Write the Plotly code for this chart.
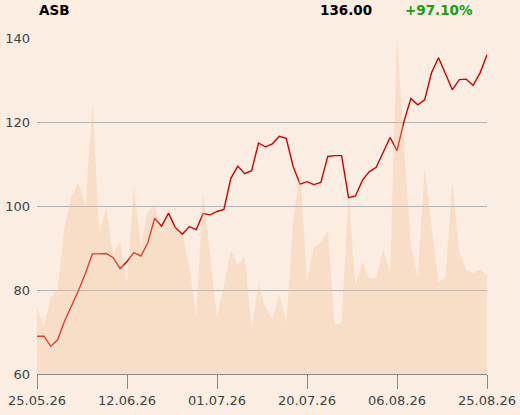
import pandas as pd
import plotly.graph_objects as go

# ---- data ----
symbol = "ASB"
last_price_text = "136.00"
change_text = "+97.10%"

# trading days (business days, 04.06.26 holiday)
dates = [d for d in pd.bdate_range("2026-05-25", "2026-08-25") if d != pd.Timestamp("2026-06-04")]
categories = [d.strftime("%d.%m.%y") for d in dates]

price = [69.0, 69.0, 66.6, 68.2, 72.7, 76.1, 79.9, 84.0, 88.6, 88.6,
         88.7, 87.7, 85.1, 86.8, 88.9, 88.1, 91.2, 97.1, 95.2, 98.3,
         94.8, 93.3, 95.1, 94.4, 98.2, 97.9, 98.7, 99.2, 106.6, 109.5,
         107.7, 108.4, 115.0, 114.1, 114.8, 116.6, 116.1, 109.4, 105.2, 105.8,
         105.1, 105.6, 111.8, 112.0, 112.0, 102.0, 102.4, 106.1, 108.2, 109.2,
         112.9, 116.3, 113.2, 120.1, 125.6, 124.1, 125.3, 131.8, 135.3, 131.4,
         127.7, 130.1, 130.2, 128.7, 131.7, 136.0]

volume = [156, 113, 183, 203, 351, 423, 456, 399, 645, 337,
          395, 285, 315, 215, 445, 305, 387, 403, 337, 370,
          348, 332, 256, 136, 432, 290, 133, 210, 294, 260,
          280, 109, 213, 159, 131, 189, 121, 360, 482, 222,
          301, 312, 342, 117, 121, 425, 210, 267, 228, 228,
          298, 240, 800, 550, 304, 234, 490, 350, 218, 231,
          456, 288, 248, 240, 248, 235]

tick_labels = ["25.05.26", "12.06.26", "01.07.26", "20.07.26", "06.08.26", "25.08.26"]
y_ticks = [60, 80, 100, 120, 140]

# ---- figure ----
bg = "#FBEDE1"
font_family = "DejaVu Sans"

fig = go.Figure()
fig.add_trace(go.Scatter(
    x=categories, y=volume, yaxis="y2", mode="lines",
    line=dict(width=0), fill="tozeroy",
    fillcolor="rgba(242,190,150,0.34)", hoverinfo="skip", showlegend=False,
))
fig.add_trace(go.Scatter(
    x=categories, y=price, mode="lines",
    line=dict(color="#D40000", width=1.4), showlegend=False,
))

fig.update_layout(
    width=520, height=415,
    margin=dict(l=37, r=33, t=38, b=41),
    paper_bgcolor=bg, plot_bgcolor=bg,
    font=dict(family=font_family, size=13, color="#444444"),
    xaxis=dict(
        type="category", range=[0, len(categories) - 1], automargin=False,
        tickmode="array", tickvals=tick_labels, ticktext=tick_labels,
        showgrid=False, showline=True, linecolor="#8a8a8a", linewidth=1,
        ticks="outside", ticklen=14, tickcolor="#8a8a8a", tickwidth=1,
        tickfont=dict(size=13, color="#444444"), zeroline=False,
    ),
    yaxis=dict(
        range=[60, 140], tickvals=y_ticks, showgrid=True, automargin=False,
        gridcolor="#b4b4b4", gridwidth=1, zeroline=False, showline=False,
        ticks="", tickfont=dict(size=13, color="#444444"), ticklabelstandoff=6,
    ),
    yaxis2=dict(
        overlaying="y", range=[0, 800], visible=False, showgrid=False,
        automargin=False,
    ),
    annotations=[
        dict(text="<b>" + symbol + "</b>", xref="paper", yref="paper",
             x=0, y=1.084, xanchor="left", yanchor="middle", showarrow=False,
             font=dict(size=13.5, color="#000000", family=font_family)),
        dict(text="<b>" + last_price_text + "</b>", xref="paper", yref="paper",
             x=0.749, y=1.084, xanchor="right", yanchor="middle", showarrow=False,
             font=dict(size=13.5, color="#000000", family=font_family)),
        dict(text="<b>" + change_text + "</b>", xref="paper", yref="paper",
             x=0.974, y=1.084, xanchor="right", yanchor="middle", showarrow=False,
             font=dict(size=13.5, color="#13A10E", family=font_family)),
    ],
)

fig.write_html(
    "out.html",
    config={"displayModeBar": False},
    post_script="document.body.style.margin='0';document.body.style.background='%s';" % bg,
)
